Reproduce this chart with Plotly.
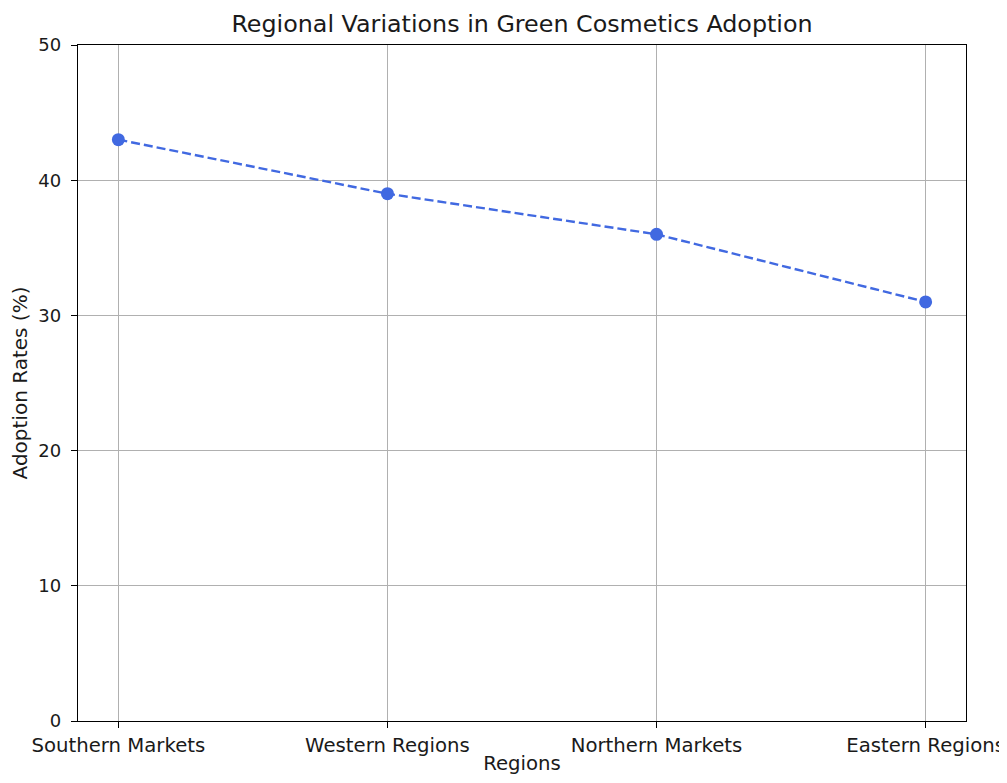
import plotly.graph_objects as go

regions = ["Southern Markets", "Western Regions", "Northern Markets", "Eastern Regions"]
adoption_rates = [43, 39, 36, 31]
y_ticks = [0, 10, 20, 30, 40, 50]

FONT = "DejaVu Sans"

fig = go.Figure()
fig.add_trace(go.Scatter(
    x=regions, y=adoption_rates,
    mode="lines+markers",
    line=dict(color="#4169E1", width=2.4, dash="9px,4px"),
    marker=dict(color="#4169E1", size=13),
    showlegend=False,
))

axis_common = dict(
    showline=True, linecolor="black", linewidth=1.3, mirror=True,
    ticks="outside", ticklen=6, tickwidth=1.2, tickcolor="black",
    showgrid=True, gridcolor="#b0b0b0", gridwidth=1,
    zeroline=False, automargin=False,
)

fig.update_layout(
    width=991, height=767, autosize=False,
    paper_bgcolor="white", plot_bgcolor="white",
    margin=dict(l=70, r=33, t=37, b=54),
    font=dict(family=FONT, color="black"),
    title=dict(text="Regional Variations in Green Cosmetics Adoption",
               x=0.5, xanchor="center", xref="paper", y=1 - 16 / 767, yanchor="middle",
               font=dict(family=FONT, size=23.8, color="#1a1a1a")),
    xaxis=dict(**axis_common, type="category", range=[-0.15, 3.15],
               tickfont=dict(family=FONT, size=19.7, color="#1a1a1a"),
               title=dict(text="Regions", standoff=9,
                          font=dict(family=FONT, size=19.7, color="#1a1a1a"))),
    yaxis=dict(**axis_common, range=[0, 50], tickvals=y_ticks,
               ticklabelstandoff=6,
               tickfont=dict(family=FONT, size=18, color="#1a1a1a"),
               title=dict(text="Adoption Rates (%)", standoff=10,
                          font=dict(family=FONT, size=20, color="#1a1a1a"))),
)

fig.write_html("out.html")
